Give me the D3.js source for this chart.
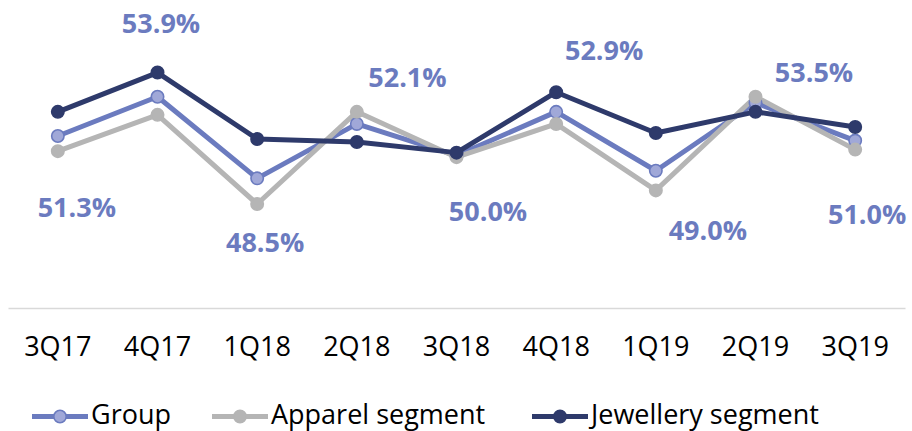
<!DOCTYPE html>
<html>
<head>
<meta charset="utf-8">
<script src="https://cdn.jsdelivr.net/npm/d3@7"></script>
<style>
  html, body { margin: 0; padding: 0; background: #fff; }
  svg { display: block; font-family: 'Open Sans', 'Noto Sans', sans-serif; }
</style>
</head>
<body>
<svg id="chart" width="912" height="431"></svg>
<script>
// ---- Data ----
const categories = ["3Q17", "4Q17", "1Q18", "2Q18", "3Q18", "4Q18", "1Q19", "2Q19", "3Q19"];
const groupValues = [51.3, 53.9, 48.5, 52.1, 50.0, 52.9, 49.0, 53.5, 51.0];
const apparelValues = [50.3, 52.7, 46.8, 52.9, 49.9, 52.1, 47.7, 53.9, 50.4];
const jewelleryValues = [52.9, 55.5, 51.1, 50.9, 50.2, 54.2, 51.5, 52.9, 51.9];
const seriesNames = ["Group", "Apparel segment", "Jewellery segment"];

// Label placement (pixel offsets from the point, layout only)
const labelDx = [19, 3.5, 8, 50.6, 31.5, 48, 52, 58.5, 12];
const labelDy = [81, -64, 73.7, -37, 65.4, -51.8, 69.3, -20.7, 83.5];

// ---- Layout ----
const svg = d3.select("#chart");
const x = d3.scaleBand().domain(categories).range([8, 905]).padding(0);
const cx = c => x(c) + x.bandwidth() / 2;
const y = d3.scaleLinear().domain([46, 56]).range([216.1, 65.0]);

const series = [
  { name: seriesNames[0], values: groupValues, stroke: "#6b7bbf", fill: "#a0a8d8", mStroke: "#6b7bbf" },
  { name: seriesNames[1], values: apparelValues, stroke: "#b5b5b5", fill: "#b5b5b5", mStroke: "#b5b5b5" },
  { name: seriesNames[2], values: jewelleryValues, stroke: "#2e3a6b", fill: "#2e3a6b", mStroke: "#2e3a6b" }
];

// Axis (baseline + category labels)
const axis = d3.axisBottom(x).tickSize(0).tickPadding(0);
const axisG = svg.append("g").attr("transform", "translate(0,308)").call(axis);
axisG.select(".domain").attr("stroke", "#d9d9d9").attr("stroke-width", 1.5);
axisG.selectAll(".tick text")
  .attr("y", 48).attr("dy", 0)
  .attr("fill", "#000")
  .style("font-size", "27px")
  .style("font-family", "'Open Sans', sans-serif");

// Lines
const line = d3.line().x((d, i) => cx(categories[i])).y(d => y(d));
series.forEach(s => {
  svg.append("path")
    .datum(s.values)
    .attr("d", line)
    .attr("fill", "none")
    .attr("stroke", s.stroke)
    .attr("stroke-width", 5)
    .attr("stroke-linejoin", "round");
});

// Markers
series.forEach(s => {
  svg.append("g").selectAll("circle")
    .data(s.values)
    .join("circle")
    .attr("cx", (d, i) => cx(categories[i]))
    .attr("cy", d => y(d))
    .attr("r", 6.2)
    .attr("fill", s.fill)
    .attr("stroke", s.mStroke)
    .attr("stroke-width", 1.6);
});

// Data labels (Group)
svg.append("g").selectAll("text")
  .data(groupValues)
  .join("text")
  .attr("x", (d, i) => cx(categories[i]) + labelDx[i])
  .attr("y", (d, i) => y(d) + labelDy[i])
  .attr("text-anchor", "middle")
  .attr("fill", "#6b7bbf")
  .style("font-size", "27px")
  .style("font-weight", "700")
  .text(d => d.toFixed(1) + "%");

// Legend
const legendX = [32, 212, 532];
const legend = svg.append("g");
series.forEach((s, i) => {
  const g = legend.append("g").attr("transform", `translate(${legendX[i]},416.5)`);
  g.append("line").attr("x1", 0).attr("x2", 56).attr("y1", 0).attr("y2", 0)
    .attr("stroke", s.stroke).attr("stroke-width", 5);
  g.append("circle").attr("cx", 28).attr("cy", 0).attr("r", 6.2)
    .attr("fill", s.fill).attr("stroke", s.mStroke).attr("stroke-width", 1.6);
  g.append("text").attr("x", 59).attr("y", 7)
    .attr("fill", "#000")
    .style("font-size", "27px")
    .text(s.name);
});
</script>
</body>
</html>
